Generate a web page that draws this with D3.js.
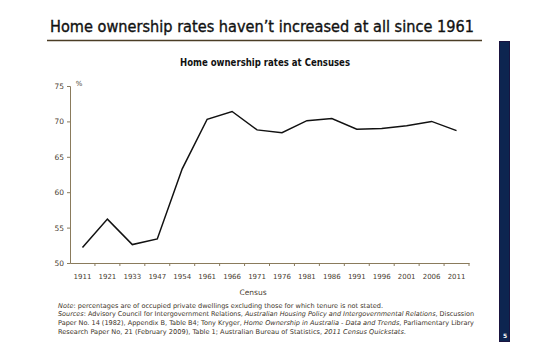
<!DOCTYPE html>
<html>
<head>
<meta charset="utf-8">
<script src="https://cdn.jsdelivr.net/npm/d3@7"></script>
<style>
  body { margin: 0; background: #fff; }
  svg { display: block; }
  text { font-family: "DejaVu Sans", sans-serif; }
</style>
</head>
<body>
<svg id="chart"></svg>
<script>
let width = 550;
let height = 350;

// census years and home ownership rates (%)
let years = ["1911", "1921", "1933", "1947", "1954", "1961", "1966", "1971",
             "1976", "1981", "1986", "1991", "1996", "2001", "2006", "2011"];
let rates = [52.2, 56.2, 52.6, 53.4, 63.3, 70.3, 71.4, 68.8,
             68.4, 70.1, 70.4, 68.9, 69.0, 69.4, 70.0, 68.7];
let yTicks = [50, 55, 60, 65, 70, 75];

let noteLines = [
    [["Note", true], [": percentages are of occupied private dwellings excluding those for which tenure is not stated.", false]],
    [["Sources", true], [": Advisory Council for Intergovernment Relations, ", false], ["Australian Housing Policy and Intergovernmental Relations", true], [", Discussion", false]],
    [["Paper No. 14 (1982), Appendix B, Table B4; Tony Kryger, ", false], ["Home Ownership in Australia - Data and Trends", true], [", Parliamentary Library", false]],
    [["Research Paper No, 21 (February 2009), Table 1; Australian Bureau of Statistics, ", false], ["2011 Census Quickstats", true], [".", false]]
];

let axisColor = "#8a7b5c";
let labelColor = "#4a4032";

let svg = d3.select("#chart").attr("width", width).attr("height", height);

// slide heading
svg.append("text")
    .attr("x", 50).attr("y", 32)
    .attr("font-size", 15)
    .attr("fill", "#111")
    .attr("stroke", "#111").attr("stroke-width", 0.35)
    .attr("textLength", 424).attr("lengthAdjust", "spacingAndGlyphs")
    .text("Home ownership rates haven\u2019t increased at all since 1961");

svg.append("line")
    .attr("x1", 47).attr("x2", 482).attr("y1", 40.5).attr("y2", 40.5)
    .attr("stroke", "#4b3d25").attr("stroke-width", 1.5);

// right side bar with slide number
svg.append("rect")
    .attr("x", 499.5).attr("y", 41.5).attr("width", 10).attr("height", 300)
    .attr("fill", "#0d2550").attr("stroke", "#1a1440");
svg.append("text")
    .attr("x", 505).attr("y", 338)
    .attr("text-anchor", "middle")
    .attr("font-size", 6).attr("font-weight", "bold")
    .attr("fill", "#fff")
    .text("5");

// chart title
svg.append("text")
    .attr("x", 265).attr("y", 66)
    .attr("text-anchor", "middle")
    .attr("font-size", 10).attr("font-weight", "bold")
    .attr("fill", "#111")
    .attr("textLength", 170).attr("lengthAdjust", "spacingAndGlyphs")
    .text("Home ownership rates at Censuses");

let x = d3.scaleBand().domain(years).range([70, 469]);
let y = d3.scaleLinear().domain([50, 75]).range([263, 86]);

// y axis
let yAxis = svg.append("g")
    .attr("transform", "translate(70,0)")
    .call(d3.axisLeft(y).tickValues(yTicks).tickSize(3).tickPadding(3));
yAxis.select(".domain").attr("stroke", axisColor);
yAxis.selectAll(".tick line").attr("stroke", axisColor);
yAxis.selectAll(".tick text")
    .attr("fill", labelColor)
    .attr("font-size", 7.5)
    .attr("font-family", "DejaVu Sans, sans-serif");

// x axis: labels centred in bands, ticks on band edges
let xAxis = svg.append("g")
    .attr("transform", "translate(0,263)")
    .call(d3.axisBottom(x).tickSize(0).tickPadding(11));
xAxis.select(".domain").attr("stroke", axisColor);
xAxis.selectAll(".tick text")
    .attr("fill", labelColor)
    .attr("font-size", 7)
    .attr("font-family", "DejaVu Sans, sans-serif");

svg.append("g")
    .selectAll("line")
    .data(years)
    .enter().append("line")
    .attr("x1", d => x(d) + x.bandwidth())
    .attr("x2", d => x(d) + x.bandwidth())
    .attr("y1", 263).attr("y2", 266)
    .attr("stroke", axisColor);

svg.append("text")
    .attr("x", 79).attr("y", 86)
    .attr("text-anchor", "middle")
    .attr("font-size", 7)
    .attr("fill", labelColor)
    .text("%");

svg.append("text")
    .attr("x", 253).attr("y", 295)
    .attr("text-anchor", "middle")
    .attr("font-size", 7.5)
    .attr("fill", labelColor)
    .text("Census");

// the series
let line = d3.line()
    .x((d, i) => x(years[i]) + x.bandwidth() / 2)
    .y(d => y(d));

svg.append("path")
    .datum(rates)
    .attr("d", line)
    .attr("fill", "none")
    .attr("stroke", "#111")
    .attr("stroke-width", 1.5)
    .attr("stroke-linejoin", "miter");

// footnote
let noteWidths = [325, 416, 416, 348];
noteLines.forEach(function (parts, i) {
    let t = svg.append("text")
        .attr("x", 58).attr("y", 307.5 + i * 8.7)
        .attr("font-size", 6.6)
        .attr("fill", "#3c3428")
        .attr("textLength", noteWidths[i]).attr("lengthAdjust", "spacingAndGlyphs");
    parts.forEach(function (p) {
        t.append("tspan")
            .attr("font-style", p[1] ? "italic" : "normal")
            .text(p[0]);
    });
});
</script>
</body>
</html>
